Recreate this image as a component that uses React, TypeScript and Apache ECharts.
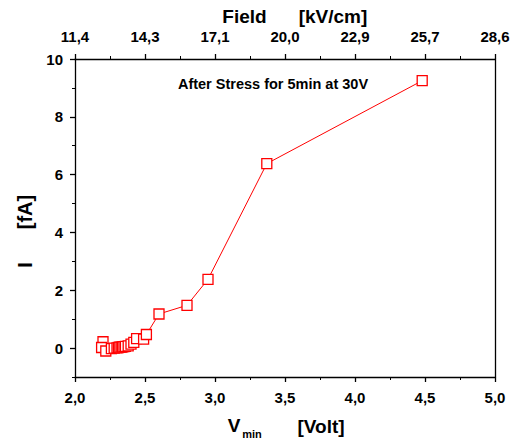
import React, { useEffect, useRef } from "react";
import * as echarts from "echarts";

const vmin = [2.2, 2.19, 2.22, 2.26, 2.28, 2.3, 2.31, 2.32, 2.33, 2.34, 2.35, 2.36, 2.38, 2.4, 2.42, 2.44, 2.49, 2.51, 2.6, 2.8, 2.95, 3.37, 4.48];
const current = [0.22, 0.02, -0.1, -0.02, 0.0, 0.01, 0.02, 0.03, 0.03, 0.04, 0.05, 0.06, 0.08, 0.14, 0.2, 0.33, 0.31, 0.47, 1.18, 1.48, 2.38, 6.38, 9.25];
const fieldLabels = ["11,4", "14,3", "17,1", "20,0", "22,9", "25,7", "28,6"];
const yMajor = [0, 2, 4, 6, 8, 10];
const yMinor = [-1, 1, 3, 5, 7, 9];

const FONT = "Liberation Sans, Arial, sans-serif";

export default function App() {
  const ref = useRef<HTMLDivElement>(null);
  useEffect(() => {
    const chart = echarts.init(ref.current!, null, { renderer: "svg" });
    const axisLine = { show: true, onZero: false, lineStyle: { color: "#000", width: 1.3 } };
    const labelStyle = { color: "#000", fontFamily: FONT, fontWeight: "bold" as const, fontSize: 15 };
    const txt = (text: string, size: number, extra: any) => ({
      type: "text",
      ...extra,
      style: { text, font: `bold ${size}px ${FONT}`, fill: "#000", textAlign: "center", textVerticalAlign: "middle" },
    });
    chart.setOption({
      animation: false,
      backgroundColor: "#fff",
      grid: { left: 75, right: 23, top: 59, bottom: 64 },
      xAxis: [
        {
          type: "value", position: "bottom", min: 2, max: 5, interval: 0.5,
          axisLine,
          axisTick: { show: true, inside: false, length: 5, lineStyle: { color: "#000", width: 1.3 } },
          minorTick: { show: true, splitNumber: 2, length: 3, lineStyle: { color: "#000", width: 1 } },
          splitLine: { show: false },
          axisLabel: { ...labelStyle, margin: 13, formatter: (v: number) => v.toFixed(1).replace(".", ",") },
        },
        {
          type: "value", position: "top", min: 2, max: 5, interval: 0.5,
          axisLine,
          axisTick: { show: true, inside: false, length: 5, lineStyle: { color: "#000", width: 1.3 } },
          minorTick: { show: true, splitNumber: 2, length: 3, lineStyle: { color: "#000", width: 1 } },
          splitLine: { show: false },
          axisLabel: {
            ...labelStyle, margin: 15,
            formatter: (v: number) => fieldLabels[Math.round((v - 2) / 0.5)] ?? "",
          },
        },
      ],
      yAxis: [
        {
          type: "value", position: "left", min: -1, max: 10, interval: 1,
          axisLine,
          axisTick: { show: true, inside: false, length: 5, customValues: yMajor, lineStyle: { color: "#000", width: 1.3 } },
          splitLine: { show: false },
          axisLabel: { ...labelStyle, margin: 12, customValues: yMajor },
        },
        {
          type: "value", position: "left", min: -1, max: 10, interval: 1,
          axisLine: { show: false },
          axisTick: { show: true, inside: false, length: 3, customValues: yMinor, lineStyle: { color: "#000", width: 1 } },
          splitLine: { show: false },
          axisLabel: { show: false },
        },
        {
          type: "value", position: "right", min: -1, max: 10, interval: 1,
          axisLine,
          axisTick: { show: false },
          splitLine: { show: false },
          axisLabel: { show: false },
        },
      ],
      graphic: [
        txt("Field", 19, { x: 244.5, y: 16 }),
        txt("[kV/cm]", 19, { x: 333, y: 16 }),
        txt("V", 19, { x: 234, y: 425 }),
        txt("min", 11, { x: 252, y: 434 }),
        txt("[Volt]", 19, { x: 321, y: 426 }),
        txt("[fA]", 20, { x: 25, y: 212, rotation: Math.PI / 2 }),
        txt("I", 20, { x: 25, y: 265, rotation: Math.PI / 2 }),
        txt("After Stress for 5min at 30V", 14.5, { x: 273, y: 84 }),
      ],
      series: [
        {
          type: "line",
          xAxisIndex: 0, yAxisIndex: 0,
          data: vmin.map((v, i) => [v, current[i]]),
          symbol: "rect", symbolSize: 10,
          lineStyle: { color: "#ff0000", width: 1 },
          itemStyle: { color: "#fff", borderColor: "#ff0000", borderWidth: 1.3 },
          showAllSymbol: true,
        },
      ],
    });
    return () => chart.dispose();
  }, []);
  return <div ref={ref} style={{ position: "fixed", left: 0, top: 0, width: 518, height: 441 }} />;
}
